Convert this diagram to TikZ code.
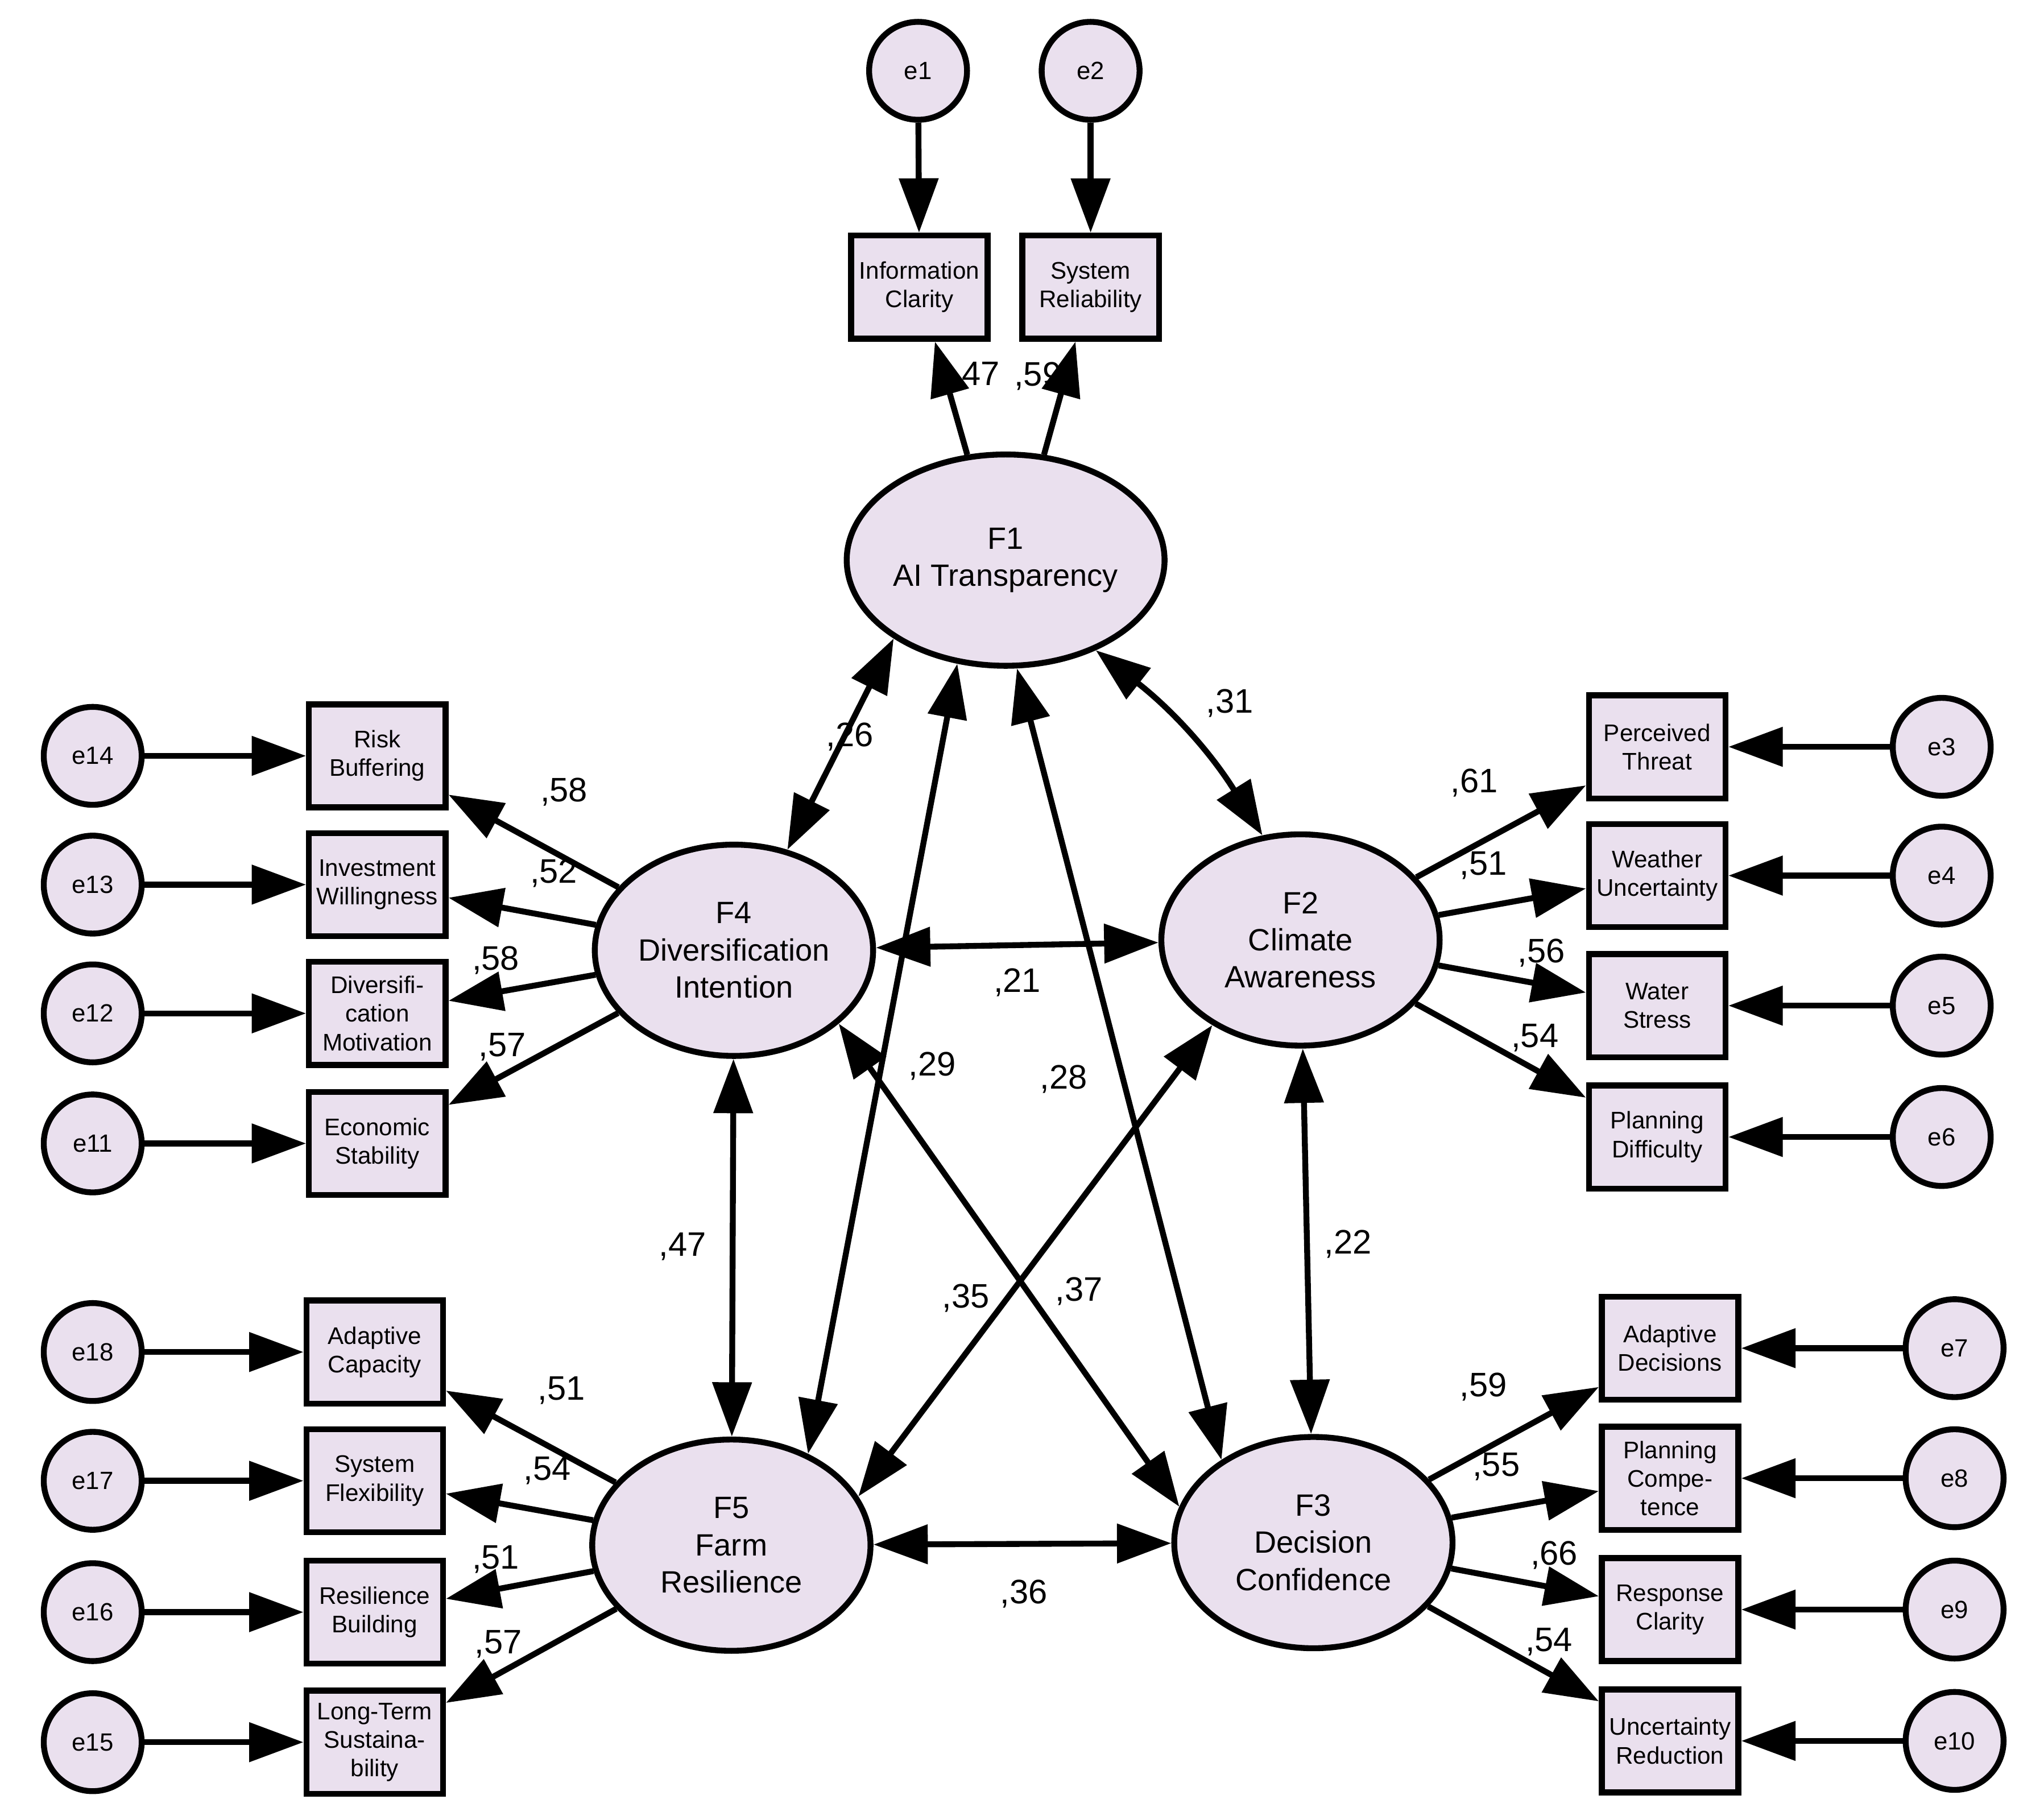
\documentclass[tikz,border=0pt]{standalone}
\usepackage{fontspec}
\setmainfont{Liberation Sans}
\usetikzlibrary{shapes.geometric,arrows.meta}
\definecolor{fl}{RGB}{234,224,238}
\begin{document}
\begin{tikzpicture}[x=0.01cm,y=-0.01cm,
 err/.style={circle,draw,line width=1.3pt,fill=fl,minimum size=0.76cm,inner sep=0pt,font=\fontsize{5.5}{6}\selectfont},
 obs/.style={rectangle,draw,line width=1.3pt,fill=fl,minimum width=1.06cm,minimum height=0.8cm,inner sep=0pt,align=center,font=\fontsize{5.3}{6.3}\selectfont},
 lat/.style={ellipse,draw,line width=1.3pt,fill=fl,minimum width=2.16cm,minimum height=1.64cm,inner sep=0pt,align=center,font=\fontsize{6.8}{8.2}\selectfont},
 ar/.style={line width=1.3pt,-{Triangle[length=12pt,width=8.5pt]}},
 cov/.style={line width=1.3pt,{Triangle[length=12pt,width=8.5pt]}-{Triangle[length=12pt,width=8.5pt]}},
 lb/.style={font=\fontsize{7.5}{9}\selectfont}]
\useasboundingbox (0,0) rectangle (1568,1413);
\node[err] (e1) at (713,55) {e1};
\node[err] (e2) at (847,55) {e2};
\node[obs] (ic) at (714,223) {Information\\Clarity};
\node[obs] (sr) at (847,223) {System\\Reliability};
\node[lat] (F1) at (781,435) {F1\\AI Transparency};
\node[lat] (F2) at (1010,730) {F2\\Climate\\Awareness};
\node[lat] (F3) at (1020,1198) {F3\\Decision\\Confidence};
\node[lat] (F4) at (570,738) {F4\\Diversification\\Intention};
\node[lat] (F5) at (568,1200) {F5\\Farm\\Resilience};
% left boxes
\node[obs] (rb) at (293,587) {Risk\\Buffering};
\node[obs] (iw) at (293,687) {Investment\\Willingness};
\node[obs] (dm) at (293,787) {Diversifi-\\cation\\Motivation};
\node[obs] (es) at (293,888) {Economic\\Stability};
\node[obs] (ac) at (291,1050) {Adaptive\\Capacity};
\node[obs] (sf) at (291,1150) {System\\Flexibility};
\node[obs] (rbb) at (291,1252) {Resilience\\Building};
\node[obs] (lt) at (291,1353) {Long-Term\\Sustaina-\\bility};
\node[err] (e14) at (72,587) {e14};
\node[err] (e13) at (72,687) {e13};
\node[err] (e12) at (72,787) {e12};
\node[err] (e11) at (72,888) {e11};
\node[err] (e18) at (72,1050) {e18};
\node[err] (e17) at (72,1150) {e17};
\node[err] (e16) at (72,1252) {e16};
\node[err] (e15) at (72,1353) {e15};
% right boxes
\node[obs] (pt) at (1287,580) {Perceived\\Threat};
\node[obs] (wu) at (1287,680) {Weather\\Uncertainty};
\node[obs] (ws) at (1287,781) {Water\\Stress};
\node[obs] (pd) at (1287,883) {Planning\\Difficulty};
\node[obs] (ad) at (1297,1047) {Adaptive\\Decisions};
\node[obs] (pc) at (1297,1148) {Planning\\Compe-\\tence};
\node[obs] (rc) at (1297,1250) {Response\\Clarity};
\node[obs] (ur) at (1297,1352) {Uncertainty\\Reduction};
\node[err] (e3) at (1508,580) {e3};
\node[err] (e4) at (1508,680) {e4};
\node[err] (e5) at (1508,781) {e5};
\node[err] (e6) at (1508,883) {e6};
\node[err] (e7) at (1518,1047) {e7};
\node[err] (e8) at (1518,1148) {e8};
\node[err] (e9) at (1518,1250) {e9};
\node[err] (e10) at (1518,1352) {e10};
% error arrows
\draw[ar] (e1)--(ic); \draw[ar] (e2)--(sr);
\foreach \a/\b in {e14/rb,e13/iw,e12/dm,e11/es,e18/ac,e17/sf,e16/rbb,e15/lt,e3/pt,e4/wu,e5/ws,e6/pd,e7/ad,e8/pc,e9/rc,e10/ur}
  \draw[ar] (\a)--(\b);
% loadings
\draw[ar] (F1.110)--(ic); \draw[ar] (F1.70)--(sr);
\foreach \b in {rb,iw,dm,es} \draw[ar] (F4)--(\b);
\foreach \b in {ac,sf,rbb,lt} \draw[ar] (F5)--(\b);
\foreach \b in {pt,wu,ws,pd} \draw[ar] (F2)--(\b);
\foreach \b in {ad,pc,rc,ur} \draw[ar] (F3)--(\b);
% covariances
\draw[cov] (F1.215)--(F4.62);
\draw[cov] (F1.-45) to[bend left=10] (F2.110);
\draw[cov] (F4)--(F2);
\draw[cov] (F2)--(F3);
\draw[cov] (F4)--(F5);
\draw[cov] (F5)--(F3);
\draw[cov] (F1.245)--(F5.50);
\draw[cov] (F1.276)--(F3.138);
\draw[cov] (F4.325)--(F3.165);
\draw[cov] (F2.224)--(F5.21);
% labels
\foreach \x/\y/\t in {758/292/{,47},806/292/{,59},660/572/{,26},955/546/{,31},790/763/{,21},724/828/{,29},826/838/{,28},530/968/{,47},1047/966/{,22},750/1008/{,35},838/1003/{,37},795/1238/{,36},
 438/615/{,58},430/678/{,52},385/746/{,58},390/813/{,57},436/1080/{,51},425/1142/{,54},385/1211/{,51},387/1277/{,57},
 1145/608/{,61},1152/672/{,51},1197/740/{,56},1192/806/{,54},1152/1077/{,59},1162/1139/{,55},1207/1208/{,66},1203/1275/{,54}}
 \node[lb] at (\x,\y) {\t};
\end{tikzpicture}
\end{document}
